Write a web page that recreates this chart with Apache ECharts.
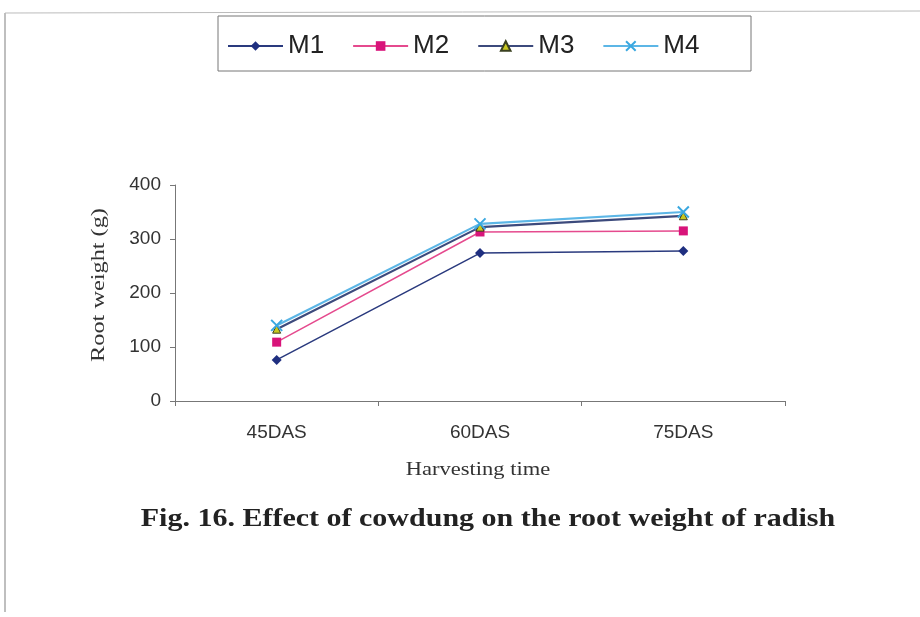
<!DOCTYPE html>
<html><head><meta charset="utf-8">
<script src="https://cdn.jsdelivr.net/npm/echarts@6/dist/echarts.min.js"></script>
<style>html,body{margin:0;padding:0;background:#fff}#c{width:920px;height:617px}</style>
</head><body><div id="c"></div>
<script>
const categories = ['45DAS', '60DAS', '75DAS'];
const seriesNames = ['M1', 'M2', 'M3', 'M4'];
const m1 = [76, 274, 278];
const m2 = [109, 313, 315];
const m3 = [133, 322, 343];
const m4 = [140, 328, 350];
const yTicks = [0, 100, 200, 300, 400];

const values = [m1, m2, m3, m4];
const lineColors = ['#2a3a7e', '#e54a8e', '#3c4a7c', '#5cb6e6'];
const markerColors = ['#1f2f80', '#d8147a', '#c8c820', '#3aa8e0'];
const symbols = ['diamond', 'rect', 'triangle', 'path://M0,0 L10,10 M10,0 L0,10'];
const sizes = [10, 9, 8, 11];

const serif = '"Liberation Serif", "Times New Roman", serif';
const chart = echarts.init(document.getElementById('c'));
chart.setOption({
  animation: false,
  backgroundColor: '#fff',
  graphic: [
    { type: 'line', shape: { x1: 5, y1: 13, x2: 5, y2: 612 }, style: { stroke: '#aaa', lineWidth: 1.5 } },
    { type: 'line', shape: { x1: 5, y1: 13, x2: 920, y2: 11 }, style: { stroke: '#bbb', lineWidth: 1 } },
    { type: 'rect', shape: { x: 218, y: 16, width: 533, height: 55 }, style: { fill: 'none', stroke: '#777', lineWidth: 1 } },
    { type: 'text', x: 488, y: 520, scaleX: 1.2, style: { x: 0, y: 0, text: 'Fig. 16. Effect of cowdung on the root weight of radish', font: 'bold 25px ' + serif, fill: '#222', textAlign: 'center', textVerticalAlign: 'middle' } },
    { type: 'text', x: 478, y: 470, scaleX: 1.25, style: { x: 0, y: 0, text: 'Harvesting time', font: '18px ' + serif, fill: '#333', textAlign: 'center', textVerticalAlign: 'middle' } },
    { type: 'text', x: 99, y: 285, rotation: Math.PI / 2, scaleX: 1.35, style: { x: 0, y: 0, text: 'Root weight (g)', font: '18px ' + serif, fill: '#333', textAlign: 'center', textVerticalAlign: 'middle' } }
  ],
  legend: {
    top: 28, left: 222,
    itemGap: 28,
    itemWidth: 55, itemHeight: 12,
    textStyle: { fontFamily: 'Liberation Sans, Arial', fontSize: 26, color: '#222' },
    data: seriesNames
  },
  grid: { left: 175, right: 135, top: 185, bottom: 216 },
  xAxis: {
    type: 'category',
    data: categories,
    boundaryGap: true,
    axisLine: { lineStyle: { color: '#777' } },
    axisTick: { show: true, length: 5, lineStyle: { color: '#777' } },
    axisLabel: { fontFamily: 'Liberation Sans, Arial', fontSize: 19, color: '#333', margin: 22 }
  },
  yAxis: {
    type: 'value',
    min: yTicks[0], max: yTicks[yTicks.length - 1], interval: 100,
    axisLine: { show: true, lineStyle: { color: '#777' } },
    axisTick: { show: true, length: 5, lineStyle: { color: '#777' } },
    splitLine: { show: false },
    axisLabel: { fontFamily: 'Liberation Sans, Arial', fontSize: 19, color: '#333', margin: 14 }
  },
  series: seriesNames.map((n, i) => ({
    name: n,
    type: 'line',
    data: values[i],
    symbol: symbols[i],
    symbolSize: sizes[i],
    lineStyle: { color: lineColors[i], width: i >= 2 ? 2.2 : 1.5 },
    itemStyle: i === 3
      ? { color: markerColors[i], borderColor: markerColors[i], borderWidth: 2 }
      : { color: markerColors[i], borderColor: i === 2 ? '#3a4020' : markerColors[i], borderWidth: i === 2 ? 1 : 0 },
    z: 2 + i
  }))
});
</script></body></html>
